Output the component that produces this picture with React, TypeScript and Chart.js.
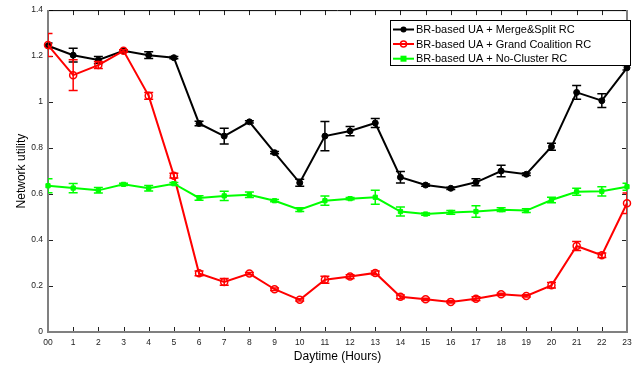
import React, { useEffect, useRef } from "react";
import { Chart, registerables } from "chart.js";

Chart.register(...registerables);

const hours = [0, 1, 2, 3, 4, 5, 6, 7, 8, 9, 10, 11, 12, 13, 14, 15, 16, 17, 18, 19, 20, 21, 22, 23];
const xTickLabels = ["00", "1", "2", "3", "4", "5", "6", "7", "8", "9", "10", "11", "12", "13", "14", "15", "16", "17", "18", "19", "20", "21", "22", "23"];
const yTicks = [0, 0.2, 0.4, 0.6, 0.8, 1, 1.2, 1.4];

const mergeSplit = [1.245, 1.204, 1.183, 1.223, 1.204, 1.193, 0.907, 0.852, 0.914, 0.78, 0.649, 0.852, 0.874, 0.909, 0.673, 0.639, 0.625, 0.651, 0.7, 0.686, 0.806, 1.042, 1.006, 1.149];
const mergeSplitErr = [0.012, 0.03, 0.015, 0.005, 0.015, 0.005, 0.01, 0.034, 0.005, 0.005, 0.015, 0.064, 0.02, 0.02, 0.025, 0.005, 0.005, 0.015, 0.025, 0.005, 0.015, 0.03, 0.03, 0.01];

const grandCoalition = [1.248, 1.117, 1.161, 1.223, 1.027, 0.68, 0.255, 0.218, 0.254, 0.186, 0.14, 0.227, 0.241, 0.257, 0.153, 0.142, 0.131, 0.145, 0.164, 0.157, 0.203, 0.374, 0.334, 0.56];
const grandCoalitionErr = [0.05, 0.067, 0.015, 0.005, 0.015, 0.01, 0.01, 0.015, 0.005, 0.005, 0.005, 0.015, 0.008, 0.008, 0.008, 0.005, 0.005, 0.008, 0.005, 0.005, 0.012, 0.02, 0.01, 0.045];

const noCluster = [0.636, 0.626, 0.616, 0.642, 0.625, 0.645, 0.583, 0.592, 0.597, 0.571, 0.532, 0.571, 0.58, 0.586, 0.524, 0.513, 0.52, 0.524, 0.532, 0.528, 0.574, 0.61, 0.612, 0.632];
const noClusterErr = [0.03, 0.02, 0.012, 0.005, 0.012, 0.005, 0.01, 0.02, 0.012, 0.005, 0.008, 0.02, 0.005, 0.03, 0.02, 0.005, 0.008, 0.025, 0.008, 0.008, 0.012, 0.015, 0.02, 0.015];

const seriesNames = ["BR-based UA + Merge&Split RC", "BR-based UA + Grand Coalition RC", "BR-based UA + No-Cluster RC"];
const seriesColors = ["#000000", "#ff0000", "#00ff00"];
const seriesErrs = [mergeSplitErr, grandCoalitionErr, noClusterErr];

const FONT = "'Liberation Sans', Arial, Helvetica, sans-serif";

const errorBarPlugin = {
  id: "errorBars",
  beforeDatasetDraw(chart: any, args: any) {
    const i = args.index;
    const errs = seriesErrs[i];
    const ds = chart.data.datasets[i];
    const xs = chart.scales.x;
    const ys = chart.scales.y;
    const ca = chart.chartArea;
    const ctx = chart.ctx;
    ctx.save();
    ctx.beginPath();
    ctx.rect(ca.left, ca.top, ca.right - ca.left, ca.bottom - ca.top);
    ctx.clip();
    ctx.strokeStyle = seriesColors[i];
    ctx.lineWidth = 1.5;
    const cap = 4.5;
    ds.data.forEach((p: any, k: number) => {
      const x = xs.getPixelForValue(p.x);
      const y1 = ys.getPixelForValue(p.y - errs[k]);
      const y2 = ys.getPixelForValue(p.y + errs[k]);
      ctx.beginPath();
      ctx.moveTo(x, y1);
      ctx.lineTo(x, y2);
      ctx.moveTo(x - cap, y1);
      ctx.lineTo(x + cap, y1);
      ctx.moveTo(x - cap, y2);
      ctx.lineTo(x + cap, y2);
      ctx.stroke();
    });
    ctx.restore();
  },
};

const framePlugin = {
  id: "frame",
  beforeDatasetsDraw(chart: any) {
    const ctx = chart.ctx;
    const ca = chart.chartArea;
    const xs = chart.scales.x;
    const ys = chart.scales.y;
    const L = 5;
    ctx.save();
    ctx.strokeStyle = "#222";
    ctx.lineWidth = 1;
    ctx.beginPath();
    hours.forEach((h) => {
      const x = Math.round(xs.getPixelForValue(h)) + 0.5;
      ctx.moveTo(x, ca.bottom);
      ctx.lineTo(x, ca.bottom - L);
      ctx.moveTo(x, ca.top);
      ctx.lineTo(x, ca.top + L);
    });
    yTicks.forEach((v) => {
      const y = Math.round(ys.getPixelForValue(v)) + 0.5;
      ctx.moveTo(ca.left, y);
      ctx.lineTo(ca.left + L, y);
      ctx.moveTo(ca.right, y);
      ctx.lineTo(ca.right - L, y);
    });
    ctx.stroke();
    ctx.strokeStyle = "#000";
    ctx.beginPath();
    ctx.moveTo(ca.left, ca.top + 0.5);
    ctx.lineTo(ca.right, ca.top + 0.5);
    ctx.stroke();
    ctx.strokeStyle = "#808080";
    ctx.lineWidth = 2;
    ctx.beginPath();
    ctx.moveTo(ca.left, ca.top);
    ctx.lineTo(ca.left, ca.bottom);
    ctx.lineTo(ca.right, ca.bottom);
    ctx.lineTo(ca.right, ca.top);
    ctx.stroke();
    ctx.restore();
  },
  afterDraw(chart: any) {
    const ctx = chart.ctx;
    ctx.save();
    const bx = 390.5, by = 20.5, bw = 240, bh = 45;
    ctx.fillStyle = "#fff";
    ctx.fillRect(bx, by, bw, bh);
    ctx.strokeStyle = "#000";
    ctx.lineWidth = 1;
    ctx.strokeRect(bx, by, bw, bh);
    const rows = [29.5, 44, 58.7];
    ctx.font = `11px ${FONT}`;
    ctx.textBaseline = "middle";
    ctx.textAlign = "left";
    seriesNames.forEach((name, i) => {
      const y = rows[i];
      ctx.strokeStyle = seriesColors[i];
      ctx.lineWidth = 2;
      ctx.beginPath();
      ctx.moveTo(393, y);
      ctx.lineTo(414, y);
      ctx.stroke();
      const mx = 403.5;
      if (i === 0) {
        ctx.fillStyle = "#000";
        ctx.beginPath();
        ctx.arc(mx, y, 3, 0, Math.PI * 2);
        ctx.fill();
      } else if (i === 1) {
        ctx.lineWidth = 1.5;
        ctx.beginPath();
        ctx.arc(mx, y, 3, 0, Math.PI * 2);
        ctx.stroke();
      } else {
        ctx.fillStyle = "#00ff00";
        ctx.fillRect(mx - 3, y - 3, 6, 6);
      }
      ctx.fillStyle = "#000";
      ctx.fillText(name, 416, y + 0.5);
    });
    ctx.restore();
  },
};

export default function App() {
  const ref = useRef<HTMLCanvasElement | null>(null);
  useEffect(() => {
    if (!ref.current) return;
    const mk = (vals: number[]) => vals.map((v, k) => ({ x: hours[k], y: v }));
    const chart = new Chart(ref.current, {
      type: "line",
      data: {
        datasets: [
          {
            label: seriesNames[0],
            data: mk(mergeSplit),
            borderColor: seriesColors[0],
            backgroundColor: seriesColors[0],
            borderWidth: 2,
            pointStyle: "circle",
            pointRadius: 3,
            pointBorderWidth: 1,
            clip: false,
            order: 3,
          },
          {
            label: seriesNames[1],
            data: mk(grandCoalition),
            borderColor: seriesColors[1],
            backgroundColor: "rgba(0,0,0,0)",
            borderWidth: 2,
            pointStyle: "circle",
            pointRadius: 3.5,
            pointBorderWidth: 1.5,
            clip: false,
            order: 2,
          },
          {
            label: seriesNames[2],
            data: mk(noCluster),
            borderColor: seriesColors[2],
            backgroundColor: seriesColors[2],
            borderWidth: 2,
            pointStyle: "rect",
            pointRadius: 3,
            pointBorderWidth: 1,
            clip: false,
            order: 1,
          },
        ],
      },
      options: {
        responsive: false,
        animation: false,
        layout: { padding: { left: 0, top: 10, right: 16, bottom: 0 } },
        plugins: { legend: { display: false }, tooltip: { enabled: false } },
        scales: {
          x: {
            type: "linear",
            min: 0,
            max: 23,
            grid: { display: false, drawTicks: false },
            border: { display: false },
            ticks: {
              stepSize: 1,
              padding: 6,
              autoSkip: false,
              maxRotation: 0,
              color: "#222",
              font: { family: FONT, size: 8.5 },
              callback: (v: any) => xTickLabels[hours.indexOf(Number(v))] ?? "",
            },
            title: {
              display: true,
              text: "Daytime (Hours)",
              color: "#000",
              font: { family: FONT, size: 12 },
              padding: { top: 0, bottom: 6 },
            },
            afterFit: (s: any) => {
              s.height = 38;
            },
          },
          y: {
            min: 0,
            max: 1.4,
            grid: { display: false, drawTicks: false },
            border: { display: false },
            ticks: {
              stepSize: 0.2,
              padding: 5,
              color: "#222",
              font: { family: FONT, size: 8.5 },
              callback: (v: any) => String(Math.round(Number(v) * 10) / 10),
            },
            title: {
              display: true,
              text: "Network utility",
              color: "#000",
              font: { family: FONT, size: 12 },
              padding: { top: 14.5, bottom: 0 },
            },
            afterFit: (s: any) => {
              s.width = 48;
            },
          },
        },
      },
      plugins: [errorBarPlugin, framePlugin],
    });
    return () => chart.destroy();
  }, []);
  return (
    <div style={{ position: "absolute", left: 0, top: 0, width: 643, height: 370, background: "#fff" }}>
      <canvas ref={ref} width={643} height={370} style={{ display: "block" }} />
    </div>
  );
}
